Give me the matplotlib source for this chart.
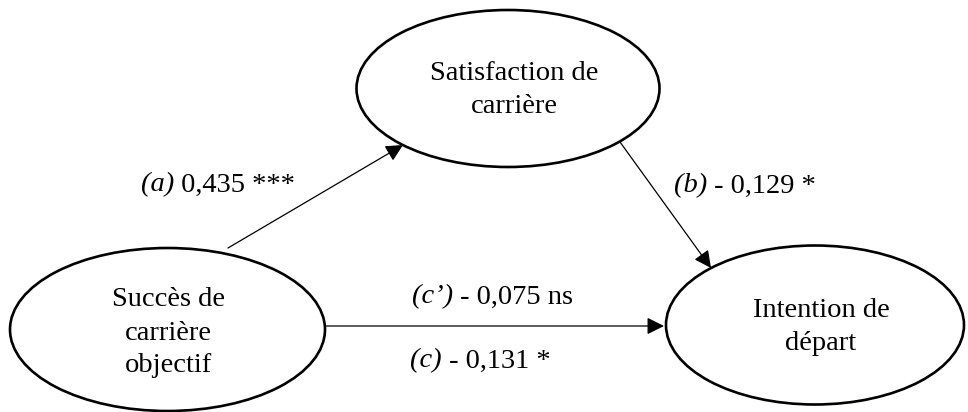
import matplotlib.pyplot as plt
from matplotlib.patches import Ellipse

plt.rcParams['font.family'] = ['Liberation Serif', 'DejaVu Serif']

# nodes of the mediation model
node_names = ["Satisfaction de\ncarrière", "Succès de\ncarrière\nobjectif", "Intention de\ndépart"]
# path coefficients
path_tags = ["(a)", "(b)", "(c’)", "(c)"]
path_values = ["0,435 ***", "- 0,129 *", "- 0,075 ns", "- 0,131 *"]

W, H = 968, 412
fig = plt.figure(figsize=(W / 100, H / 100), dpi=100)
ax = fig.add_axes([0, 0, 1, 1])
ax.set_xlim(0, W)
ax.set_ylim(H, 0)
ax.axis('off')

# ellipse geometry (center x, center y, width, height) in pixels
ell = [(508, 88.5, 303, 157), (167.5, 329.5, 315, 163), (815, 325, 298, 159)]
text_pos = [(514, 90), (168, 333), (821, 327)]
for (cx, cy, w, h), (tx, ty), name in zip(ell, text_pos, node_names):
    ax.add_patch(Ellipse((cx, cy), w, h, fill=False, lw=1.9, ec='black'))
    lines = name.split("\n")
    n = len(lines)
    step = 33
    for i, ln in enumerate(lines):
        y = ty + (i - (n - 1) / 2) * step
        ax.text(tx, y, ln, ha='center', va='center', fontsize=20.5)

# arrows
arrows = [((228, 248), (403, 145)), ((620, 142), (711, 268)), ((325, 326), (664, 326))]
for start, end in arrows:
    ax.annotate("", xy=end, xytext=start,
                arrowprops=dict(arrowstyle='-|>', color='black', lw=0.9,
                                mutation_scale=26, shrinkA=0, shrinkB=0))

# coefficient labels: split point between italic tag and value
label_pos = [(174, 185), (707, 186), (453, 297), (442, 361)]
for (x, y), tag, val in zip(label_pos, path_tags, path_values):
    ax.text(x, y, tag, ha='right', va='center', fontsize=20.5, style='italic')
    ax.text(x, y, " " + val, ha='left', va='center', fontsize=20.5)

fig.savefig("out.png", dpi=100, facecolor='white')
